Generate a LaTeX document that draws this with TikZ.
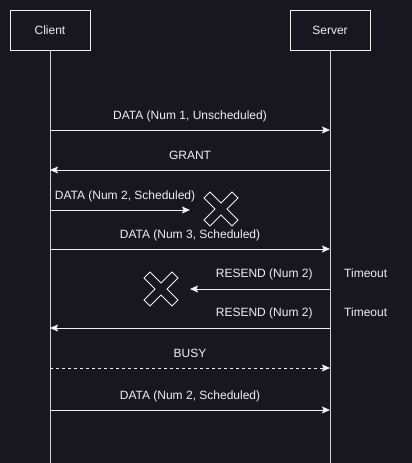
\documentclass[tikz,border=0pt]{standalone}
\usepackage{fontspec}
\setmainfont{Liberation Sans}
\usetikzlibrary{arrows.meta}
\definecolor{bg}{RGB}{24,22,31}
\definecolor{fg}{RGB}{240,240,240}

\tikzset{
  lostmark/.pic={
    \draw[fg, line width=0.8pt]
      (0,-6) -- (11,-17) -- (17,-11) -- (6,0) -- (17,11) -- (11,17) --
      (0,6) -- (-11,17) -- (-17,11) -- (-6,0) -- (-17,-11) -- (-11,-17) -- cycle;
  }
}

\begin{document}
\begin{tikzpicture}[x=1pt,y=-1pt,
  font=\fontsize{12}{14}\selectfont, text=fg,
  actor/.style={draw=fg, line width=0.8pt, minimum width=80pt, minimum height=40pt},
  life/.style={draw=fg!85!bg, line width=0.8pt},
  msg/.style={draw=fg, line width=0.8pt, -{Stealth[length=8pt,width=7pt,inset=1.5pt]}},
  reply/.style={msg, dash pattern=on 3pt off 3pt},
  lbl/.style={anchor=base, yshift=11pt}]
\fill[bg] (0,0) rectangle (412,463);
\useasboundingbox (0,0) rectangle (412,463);

% participants
\node[actor] (client) at (50,30) {Client};
\node[actor] (server) at (330,30) {Server};
\coordinate (cend) at (50,463);
\coordinate (send) at (330,463);
\draw[life] (client) -- (cend);
\draw[life] (server) -- (send);

% anchor points on the lifelines
\foreach \n/\y in {1/130,2/170,3/210,4/249,5/289,6/328,7/368,8/410} {
    \coordinate (c\n) at (client.center |- 0,\y);
    \coordinate (s\n) at (server.center |- 0,\y);
}
\coordinate (lost1) at (190,210);
\coordinate (lost2) at (190,289);

% messages
\draw[msg] (c1) -- (s1) node[midway,lbl] {DATA (Num 1, Unscheduled)};
\draw[msg] (s2) -- (c2) node[midway,lbl] {GRANT};
\draw[msg] (c3) -- (lost1) node[midway,lbl,xshift=5pt] {DATA (Num 2, Scheduled)};
\draw[msg] (c4) -- (s4) node[midway,lbl] {DATA (Num 3, Scheduled)};
\draw[msg] (s5) -- (lost2) node[pos=0,anchor=base east,xshift=-13.7pt,yshift=12pt] {RESEND (Num 2)};
\draw[msg] (s6) -- (c6) node[pos=0,anchor=base east,xshift=-13.7pt,yshift=12pt] {RESEND (Num 2)};
\draw[reply] (c7) -- (s7) node[midway,lbl] {BUSY};
\draw[msg] (c8) -- (s8) node[midway,lbl] {DATA (Num 2, Scheduled)};

% timeouts
\node[anchor=base west, xshift=10.7pt, yshift=12pt] (tmo1) at (s5) {Timeout};
\node[anchor=base west, xshift=10.7pt, yshift=12pt] (tmo2) at (s6) {Timeout};

% lost packets
\pic at (221,209) {lostmark};
\pic at (161,289) {lostmark};
\end{tikzpicture}
\end{document}
